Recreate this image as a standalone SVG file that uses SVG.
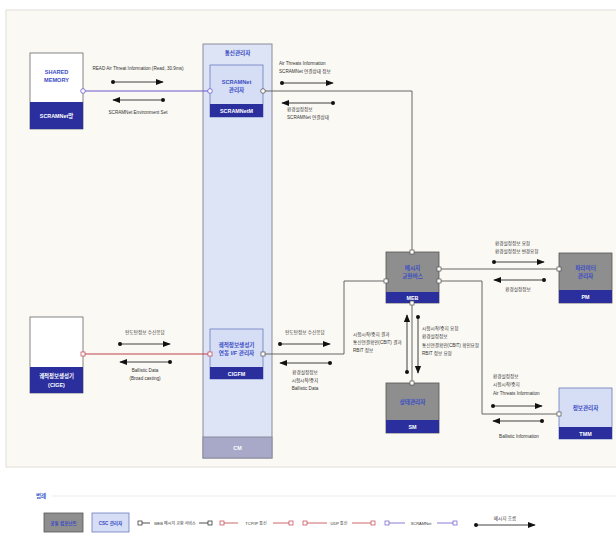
<svg xmlns="http://www.w3.org/2000/svg" width="616" height="550" viewBox="0 0 616 550">
<style>
text{font-family:"Liberation Sans","Noto Sans CJK KR",sans-serif;}
.lb{font-size:4.6px;fill:#333;}
.nt{font-size:5.6px;fill:#3a4cc4;font-weight:bold;text-anchor:middle;}
.wt{font-size:5.4px;fill:#fff;font-weight:bold;text-anchor:middle;}
.c{text-anchor:middle;}
.gray{fill:#8e8e8e;stroke:#555;stroke-width:0.8;}
.lblue{fill:#d6def6;stroke:#6c7cc0;stroke-width:0.8;}
.bar{fill:#2b2f9e;}
.wire{fill:none;stroke:#666;stroke-width:1;}
.msg{stroke:#111;stroke-width:0.8;marker-start:url(#dot);marker-end:url(#ah);}
.pq{fill:#fff;stroke:#555;stroke-width:0.7;}
</style>
<defs>
<marker id="ah" viewBox="0 0 10 10" refX="9" refY="5" markerWidth="8" markerHeight="8" markerUnits="userSpaceOnUse" orient="auto"><path d="M0,1 L10,5 L0,9 z" fill="#111"/></marker>
<marker id="dot" viewBox="0 0 10 10" refX="5" refY="5" markerWidth="4" markerHeight="4" markerUnits="userSpaceOnUse"><circle cx="5" cy="5" r="5" fill="#111"/></marker>
</defs>
<rect x="0" y="0" width="616" height="550" fill="#fff"/>
<rect x="6" y="10" width="612" height="457" fill="#fbf9f3" stroke="#e2ded6" stroke-width="1"/>

<g id="cm">
<rect x="203" y="44" width="69" height="414" fill="#dde4f6" stroke="#8a8a9a" stroke-width="1"/>
<rect x="203" y="437" width="69" height="21" fill="#a8a8c8" stroke="#8a8a9a" stroke-width="1"/>
<text x="237.5" y="55" class="nt">통신관리자</text>
<text x="237.5" y="450" class="wt">CM</text>
</g>

<g id="connectors">
<path d="M83,91 H210" fill="none" stroke="#6a5acd" stroke-width="1.2"/>
<path class="wire" d="M263,91 H412 V252"/>
<path d="M83,354 H210" fill="none" stroke="#c0404a" stroke-width="1.2"/>
<path class="wire" d="M263,354 H344 V281 H386"/>
<path class="wire" d="M439,269 H559"/>
<path class="wire" d="M439,281 H482 V414 H559"/>
<path class="wire" d="M412,303 V383"/>
<line class="msg" x1="113" y1="82" x2="163" y2="82"/>
<line class="msg" x1="163" y1="100" x2="113" y2="100"/>
<line class="msg" x1="282" y1="83" x2="333" y2="83"/>
<line class="msg" x1="333" y1="103" x2="282" y2="103"/>
<line class="msg" x1="120" y1="344" x2="170" y2="344"/>
<line class="msg" x1="170" y1="362" x2="120" y2="362"/>
<line class="msg" x1="280" y1="344" x2="330" y2="344"/>
<line class="msg" x1="330" y1="363" x2="280" y2="363"/>
<line class="msg" x1="407" y1="372" x2="407" y2="315"/>
<line class="msg" x1="418" y1="317" x2="418" y2="373"/>
<line class="msg" x1="494" y1="262" x2="544" y2="262"/>
<line class="msg" x1="544" y1="280" x2="494" y2="280"/>
<line class="msg" x1="493" y1="406" x2="542" y2="406"/>
<line class="msg" x1="542" y1="421" x2="493" y2="421"/>
</g>

<g id="labels">
<text x="138" y="70" class="lb c">READ Air Threat Information (Read, 30.9ms)</text>
<text x="138" y="114" class="lb c">SCRAMNet Environment Set</text>
<text x="279" y="65" class="lb">Air Threats Information</text>
<text x="279" y="73" class="lb">SCRAMNet 연결상태 정보</text>
<text x="287" y="111" class="lb">환경설정정보</text>
<text x="287" y="119" class="lb">SCRAMNet 연결상태</text>
<text x="145" y="334" class="lb c">탄도탄정보 수신응답</text>
<text x="145" y="372" class="lb c">Ballistic Data</text>
<text x="145" y="380" class="lb c">(Broad casting)</text>
<text x="305" y="334" class="lb c">탄도탄정보 수신응답</text>
<text x="305" y="374" class="lb c">환경설정정보</text>
<text x="305" y="382" class="lb c">시험시작/중지</text>
<text x="305" y="390" class="lb c">Ballistic Data</text>
<text x="353" y="336" class="lb">시험시작/중지 결과</text>
<text x="353" y="344" class="lb">통신연결확인(CBIT) 결과</text>
<text x="353" y="352" class="lb">RBIT 정보</text>
<text x="422" y="330" class="lb">시험시작/중지 요청</text>
<text x="422" y="338" class="lb">환경설정정보</text>
<text x="422" y="347" class="lb">통신연결확인(CBIT) 확인요청</text>
<text x="422" y="355" class="lb">RBIT 정보 요청</text>
<text x="495" y="245" class="lb">환경설정정보 요청</text>
<text x="495" y="253" class="lb">환경설정정보 변경요청</text>
<text x="518" y="291" class="lb c">환경설정정보</text>
<text x="493" y="378" class="lb">환경설정정보</text>
<text x="493" y="386" class="lb">시험시작/중지</text>
<text x="493" y="395" class="lb">Air Threats Information</text>
<text x="519" y="438" class="lb c">Ballistic Information</text>
</g>

<g id="shared-memory">
<rect x="30" y="53" width="53" height="76" fill="#fff" stroke="#666" stroke-width="0.8"/>
<rect x="30" y="102" width="53" height="27" class="bar"/>
<text x="56.5" y="74" class="nt">SHARED</text>
<text x="56.5" y="82" class="nt">MEMORY</text>
<text x="56.5" y="118" class="wt">SCRAMNet망</text>
<circle cx="83" cy="91" r="2.3" fill="#fff" stroke="#6a5acd" stroke-width="0.8"/>
</g>

<g id="scramnetm">
<rect x="210" y="65" width="53" height="52" class="lblue"/>
<rect x="210" y="104" width="53" height="13" class="bar"/>
<text x="236.5" y="84" class="nt">SCRAMNet</text>
<text x="236.5" y="92" class="nt">관리자</text>
<text x="236.5" y="113" class="wt">SCRAMNetM</text>
<circle cx="210" cy="91" r="2.3" fill="#fff" stroke="#6a5acd" stroke-width="0.8"/>
<circle cx="263" cy="91" r="2.3" fill="#fff" stroke="#555" stroke-width="0.8"/>
</g>

<g id="cige">
<rect x="30" y="317" width="53" height="76" fill="#fff" stroke="#666" stroke-width="0.8"/>
<rect x="30" y="367" width="53" height="26" class="bar"/>
<text x="56.5" y="378" class="wt">궤적정보생성기</text>
<text x="56.5" y="387" class="wt">(CIGE)</text>
<rect x="81" y="352" width="4" height="4" fill="#fff" stroke="#c0404a" stroke-width="0.7"/>
</g>

<g id="cigfm">
<rect x="210" y="329" width="53" height="50" class="lblue"/>
<rect x="210" y="367" width="53" height="12" class="bar"/>
<text x="236.5" y="347" class="nt">궤적정보생성기</text>
<text x="236.5" y="355" class="nt">연동 I/F 관리자</text>
<text x="236.5" y="375.5" class="wt">CIGFM</text>
<rect x="208" y="352" width="4" height="4" fill="#fff" stroke="#c0404a" stroke-width="0.7"/>
<rect x="261" y="352" width="4" height="4" class="pq"/>
</g>

<g id="meb">
<rect x="386" y="252" width="53" height="51" class="gray"/>
<rect x="386" y="292" width="53" height="11" class="bar"/>
<text x="412.5" y="270" class="nt">메시지</text>
<text x="412.5" y="278" class="nt">교환버스</text>
<text x="412.5" y="299.5" class="wt">MEB</text>
<rect x="410" y="250" width="4" height="4" class="pq"/>
<rect x="384" y="279" width="4" height="4" class="pq"/>
<rect x="437" y="267" width="4" height="4" class="pq"/>
<rect x="437" y="279" width="4" height="4" class="pq"/>
<rect x="410" y="301" width="4" height="4" class="pq"/>
</g>

<g id="pm">
<rect x="559" y="253" width="53" height="50" class="gray"/>
<rect x="559" y="290" width="53" height="13" class="bar"/>
<text x="585.5" y="270" class="nt">파라미터</text>
<text x="585.5" y="278" class="nt">관리자</text>
<text x="585.5" y="299" class="wt">PM</text>
<rect x="557" y="267" width="4" height="4" class="pq"/>
</g>

<g id="sm">
<rect x="386" y="383" width="53" height="50" class="gray"/>
<rect x="386" y="420" width="53" height="13" class="bar"/>
<text x="412.5" y="404" class="nt">상태관리자</text>
<text x="412.5" y="429" class="wt">SM</text>
<rect x="410" y="381" width="4" height="4" class="pq"/>
</g>

<g id="tmm">
<rect x="559" y="388" width="53" height="51" class="lblue"/>
<rect x="559" y="427" width="53" height="12" class="bar"/>
<text x="585.5" y="410" class="nt">정보관리자</text>
<text x="585.5" y="435.5" class="wt">TMM</text>
<rect x="557" y="412" width="4" height="4" class="pq"/>
</g>

<g id="legend">
<text x="36" y="498" font-size="5.5" font-weight="bold" fill="#3a5ad0">범례</text>
<line x1="52" y1="496" x2="616" y2="496" stroke="#e6e6e6" stroke-width="0.8"/>
<rect x="44" y="513" width="39" height="19" class="gray"/>
<text x="63.5" y="524.5" class="nt" font-size="4.6" style="font-size:4.6px">공통 컴포넌트</text>
<rect x="92" y="513" width="37" height="19" class="lblue"/>
<text x="110.5" y="524.5" class="nt" style="font-size:4.6px">CSC 관리자</text>
<line x1="142" y1="523" x2="150" y2="523" stroke="#222" stroke-width="0.8"/>
<line x1="199" y1="523" x2="208" y2="523" stroke="#222" stroke-width="0.8"/>
<rect x="138" y="521" width="4" height="4" class="pq" style="stroke:#222"/>
<rect x="208" y="521" width="4" height="4" class="pq" style="stroke:#222"/>
<text x="175" y="524.5" class="lb c" style="font-size:4px">MEB 메시지 교환 서비스</text>
<line x1="224" y1="523" x2="238" y2="523" stroke="#c0404a" stroke-width="0.8"/>
<line x1="273" y1="523" x2="289" y2="523" stroke="#c0404a" stroke-width="0.8"/>
<rect x="220" y="521" width="4" height="4" class="pq" style="stroke:#c0404a"/>
<rect x="289" y="521" width="4" height="4" class="pq" style="stroke:#c0404a"/>
<text x="256" y="524.5" class="lb c" style="font-size:4px">TCP/IP 통신</text>
<line x1="307" y1="523" x2="327" y2="523" stroke="#c0404a" stroke-width="0.8"/>
<line x1="352" y1="523" x2="371" y2="523" stroke="#c0404a" stroke-width="0.8"/>
<rect x="303" y="521" width="4" height="4" class="pq" style="stroke:#c0404a"/>
<rect x="371" y="521" width="4" height="4" class="pq" style="stroke:#c0404a"/>
<text x="339" y="524.5" class="lb c" style="font-size:4px">UDP 통신</text>
<line x1="389" y1="523" x2="405" y2="523" stroke="#6a5acd" stroke-width="0.8"/>
<line x1="437" y1="523" x2="453" y2="523" stroke="#6a5acd" stroke-width="0.8"/>
<rect x="385" y="521" width="4" height="4" class="pq" style="stroke:#6a5acd"/>
<rect x="453" y="521" width="4" height="4" class="pq" style="stroke:#6a5acd"/>
<text x="421" y="524.5" class="lb c" style="font-size:4px">SCRAMNet</text>
<line class="msg" x1="476" y1="525" x2="535" y2="525"/>
<text x="505" y="520" class="lb c">메시지 흐름</text>
</g>
</svg>
